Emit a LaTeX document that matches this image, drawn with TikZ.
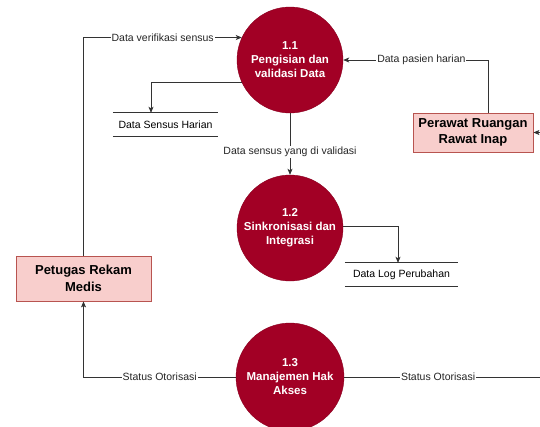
\documentclass[tikz,border=0pt]{standalone}
\usepackage{fontspec}
\setmainfont{Liberation Sans}
\usetikzlibrary{arrows.meta,calc}
\definecolor{procred}{HTML}{A20025}
\definecolor{procedge}{HTML}{8A0020}
\definecolor{entfill}{HTML}{F8CECC}
\definecolor{entedge}{HTML}{B85450}
\definecolor{lin}{HTML}{333333}
\tikzset{
  process/.style={circle, fill=procred, draw=procedge, minimum size=106pt, inner sep=0pt,
    text=white, font=\fontsize{11.5}{14}\selectfont\bfseries, align=center},
  entity/.style={rectangle, fill=entfill, draw=entedge, line width=0.8pt,
    font=\fontsize{13}{16.5}\selectfont\bfseries, align=center, inner sep=0pt},
  store/.style={rectangle, inner sep=0pt, minimum height=23pt, font=\fontsize{10.5}{12}\selectfont},
  flow/.style={draw=lin, line width=0.8pt},
  arr/.style={flow, -{Stealth[length=6pt,width=5pt,inset=1.5pt]}},
  lbl/.style={fill=white, inner sep=1pt, font=\fontsize{10.5}{12}\selectfont, text=black!85}
}
\begin{document}
\begin{tikzpicture}[x=1pt,y=-1pt]
\useasboundingbox (0,0) rectangle (540,426);
\fill[white] (0,0) rectangle (540,426);

\node[process] (c11) at (290,60) {1.1\\Pengisian dan\\validasi Data};
\node[process] (c12) at (290,228) {1.2\\Sinkronisasi dan\\Integrasi};
\node[process, minimum size=108pt] (c13) at (290,377) {1.3\\Manajemen Hak\\Akses};

\node[entity, minimum width=135pt, minimum height=45pt] (pet) at (83.5,278.5) {Petugas Rekam\\Medis};
\node[entity, minimum width=120pt, minimum height=39pt] (per) at (473,132.5) {Perawat Ruangan\\Rawat Inap};

\node[store, minimum width=105pt] (ds1) at (165.5,124.5) {Data Sensus Harian};
\draw[flow] (ds1.north west) -- (ds1.north east);
\draw[flow] (ds1.south west) -- (ds1.south east);
\node[store, minimum width=113pt] (ds2) at (401.5,274.5) {Data Log Perubahan};
\draw[flow] (ds2.north west) -- (ds2.north east);
\draw[flow] (ds2.south west) -- (ds2.south east);

\coordinate (cR) at (560,377);

\draw[arr] (pet.north) |- node[lbl, pos=0.75] {Data verifikasi sensus} (c11.155.5);
\draw[arr] ([xshift=15pt]per.north) |- node[lbl, pos=0.73] {Data pasien harian} (c11.east);
\draw[arr] (c11.205.7) -| ([xshift=-14.5pt]ds1.north);
\draw[arr] (c11) -- node[lbl, pos=0.63] {Data sensus yang di validasi} (c12);
\draw[arr] (c12.2) -| ([xshift=-3.5pt]ds2.north);
\draw[arr] (c13.west) -| node[lbl, pos=0.25] {Status Otorisasi} (pet.south);
\draw[arr] (c13.east) -- node[lbl, pos=0.435] {Status Otorisasi} (cR) |- (per.east);
\end{tikzpicture}
\end{document}
